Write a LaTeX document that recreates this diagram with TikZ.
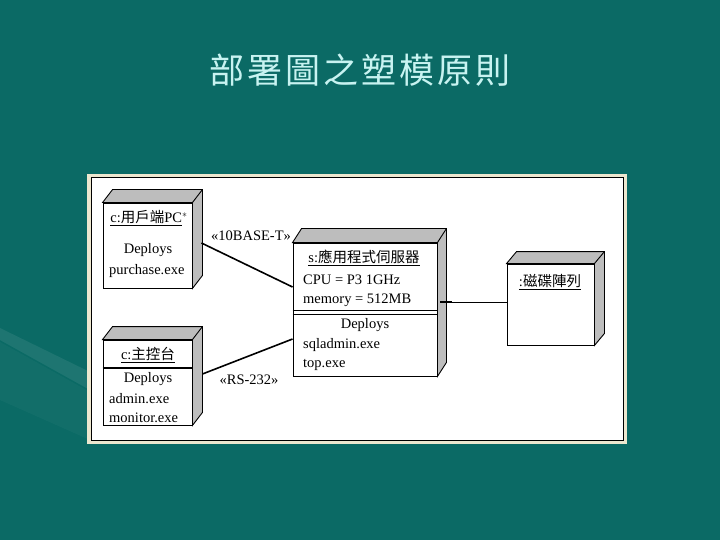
\documentclass[tikz,border=0pt]{standalone}
\usepackage{fontspec}
\setmainfont{Liberation Serif}
\newfontfamily\cjk{Noto Sans CJK TC}
\usetikzlibrary{calc}
\definecolor{slidebg}{HTML}{0B6A65}
\definecolor{titlecol}{HTML}{C8F3F1}
\definecolor{framebg}{HTML}{EDE7CF}
\definecolor{facegray}{HTML}{BDBDBD}
\tikzset{
  frontbox/.style={draw=black, fill=white, line width=0.9pt, inner sep=0pt},
  face/.style={fill=facegray, draw=black, line width=0.9pt, line join=miter},
  txt/.style={inner sep=0pt, font=\fontsize{14.5}{16}\selectfont},
  lefttxt/.style={txt, anchor=west},
  nametxt/.style={inner sep=0pt, font=\fontsize{14.5}{16}\selectfont},
  link/.style={draw=black, line width=1.6pt},
  thinlink/.style={draw=black, line width=0.8pt},
  lbl/.style={inner sep=0pt, font=\fontsize{14.5}{16}\selectfont}
}
\begin{document}
\begin{tikzpicture}[x=1pt,y=-1pt]
\useasboundingbox (0,0) rectangle (720,540);
\fill[slidebg] (0,0) rectangle (720,540);
% decorative streak
\fill[white, opacity=0.08] (0,328) -- (90,372) -- (90,390) -- (0,340) -- cycle;
\fill[white, opacity=0.03] (0,342) -- (90,392) -- (90,440) -- (0,400) -- cycle;
% title
\node[inner sep=0pt, text=titlecol, font=\cjk\fontsize{35}{40}\selectfont] (title) at (360,70)
  {部\hspace{3pt}署\hspace{3pt}圖\hspace{3pt}之\hspace{3pt}塑\hspace{3pt}模\hspace{3pt}原\hspace{3pt}則};
% frame
\fill[framebg] (87,174) rectangle (627,444);
\filldraw[fill=white, draw=black, line width=1pt] (91,178) rectangle (623,440);

% client PC
\node[frontbox, minimum width=89pt, minimum height=85pt] (pc) at (147.5,245.5) {};
\filldraw[face] (pc.north west) -- ++(10,-13) -- ($(pc.north east)+(10,-13)$) -- ($(pc.south east)+(10,-13)$) -- (pc.south east) -- (pc.north east) -- cycle;
\draw[line width=0.9pt] (pc.north east) -- ++(10,-13);
\node[nametxt] (pcname) at (149,218) {\underline{c:\cjk 用戶端\rmfamily PC}$^{*}$};
\node[txt] (pcdep) at (148,250) {Deploys};
\node[lefttxt] (pcexe) at (109,271) {purchase.exe};

% console
\node[frontbox, minimum width=89pt, minimum height=85pt] (con) at (147.5,382.5) {};
\filldraw[face] (con.north west) -- ++(10,-13) -- ($(con.north east)+(10,-13)$) -- ($(con.south east)+(10,-13)$) -- (con.south east) -- (con.north east) -- cycle;
\draw[line width=0.9pt] (con.north east) -- ++(10,-13);
\draw[line width=1.6pt] (con.west |- 0,368) -- (con.east |- 0,368);
\node[nametxt] (conname) at (148,355) {\underline{c:\cjk 主控台}};
\node[txt] (condep) at (148,379) {Deploys};
\node[lefttxt] (conexe1) at (109,399) {admin.exe};
\node[lefttxt] (conexe2) at (109,418) {monitor.exe};

% server
\node[frontbox, minimum width=144pt, minimum height=133pt] (srv) at (365,309.5) {};
\filldraw[face] (srv.north west) -- ++(9,-14) -- ($(srv.north east)+(9,-14)$) -- ($(srv.south east)+(9,-14)$) -- (srv.south east) -- (srv.north east) -- cycle;
\draw[line width=0.9pt] (srv.north east) -- ++(9,-14);
\draw[line width=0.8pt] (srv.west |- 0,310.5) -- (srv.east |- 0,310.5);
\draw[line width=1.6pt] (srv.west |- 0,314.5) -- (srv.east |- 0,314.5);
\node[nametxt] (srvname) at (364,258) {\underline{s:\cjk 應用程式伺服器}};
\node[lefttxt] (cpu) at (303,280) {CPU = P3 1GHz};
\node[lefttxt] (mem) at (303,300) {memory = 512MB};
\node[txt] (srvdep) at (365,325) {Deploys};
\node[lefttxt] (srvexe1) at (303,345) {sqladmin.exe};
\node[lefttxt] (srvexe2) at (303,365) {top.exe};

% RAID
\node[frontbox, minimum width=87pt, minimum height=81pt] (raid) at (550.5,304.5) {};
\filldraw[face] (raid.north west) -- ++(10,-12) -- ($(raid.north east)+(10,-12)$) -- ($(raid.south east)+(10,-12)$) -- (raid.south east) -- (raid.north east) -- cycle;
\draw[line width=0.9pt] (raid.north east) -- ++(10,-12);
\node[nametxt] (raidname) at (550,282) {\underline{:\cjk 磁碟陣列}};

% connectors
\coordinate (pcport) at ($(pc.east)+(9,-2.5)$);
\coordinate (srvin1) at ($(srv.west)+(0,-22.5)$);
\coordinate (conport) at ($(con.east)+(10,-8.5)$);
\coordinate (srvin2) at ($(srv.west)+(0,29.5)$);
\coordinate (srvout) at ($(srv.east)+(9,-7.5)$);
\coordinate (raidin) at ($(raid.west)+(0,-2.5)$);
\draw[link] (pcport) -- (srvin1);
\draw[link] (conport) -- (srvin2);
\draw[thinlink] (srvout) -- (raidin);
\draw[line width=1.6pt] ($(srvout)+(-6,0)$) -- ($(srvout)+(6,0)$);
\node[lbl] (l1) at (251,236) {«10BASE-T»};
\node[lbl] (l2) at (249,380) {«RS-232»};
\end{tikzpicture}
\end{document}
